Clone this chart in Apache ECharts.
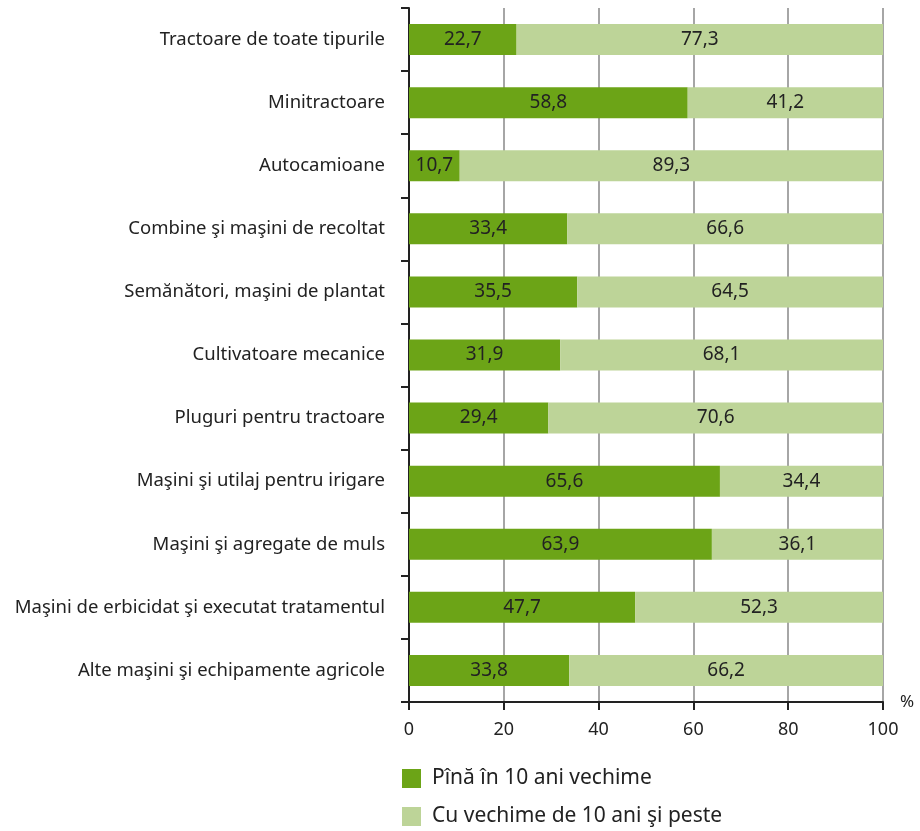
<!DOCTYPE html>
<html>
<head>
<meta charset="utf-8">
<script src="https://cdn.jsdelivr.net/npm/echarts@6/dist/echarts.min.js"></script>
<style>
  html, body { margin: 0; padding: 0; background: #fff; }
  #chart { width: 920px; height: 831px; }
</style>
</head>
<body>
<div id="chart"></div>
<script>
var categories = [
    'Tractoare de toate tipurile',
    'Minitractoare',
    'Autocamioane',
    'Combine şi maşini de recoltat',
    'Semănători, maşini de plantat',
    'Cultivatoare mecanice',
    'Pluguri pentru tractoare',
    'Maşini şi utilaj pentru irigare',
    'Maşini şi agregate de muls',
    'Maşini de erbicidat şi executat tratamentul',
    'Alte maşini şi echipamente agricole'
];
var under10 = [22.7, 58.8, 10.7, 33.4, 35.5, 31.9, 29.4, 65.6, 63.9, 47.7, 33.8];
var over10 = [77.3, 41.2, 89.3, 66.6, 64.5, 68.1, 70.6, 34.4, 36.1, 52.3, 66.2];
var seriesNames = ['Pînă în 10 ani vechime', 'Cu vechime de 10 ani şi peste'];

var font = 'Noto Sans';
var fmt = function (p) { return p.value.toFixed(1).replace('.', ','); };

function legendFor(name, top) {
    return {
        left: 397,
        top: top,
        itemWidth: 19,
        itemHeight: 19,
        icon: 'rect',
        selectedMode: false,
        textStyle: { fontSize: 21, color: '#222', fontFamily: font, padding: [0, 0, 0, 6] },
        data: [name]
    };
}

var myChart = echarts.init(document.getElementById('chart'));
myChart.setOption({
    animation: false,
    textStyle: { fontFamily: font },
    grid: { left: 409, right: 37, top: 8, bottom: 129, containLabel: false },
    legend: [legendFor(seriesNames[0], 763), legendFor(seriesNames[1], 801)],
    graphic: [{
        type: 'text',
        left: 900,
        top: 694,
        style: { text: '%', fontSize: 17, fill: '#222', fontFamily: font }
    }],
    xAxis: {
        type: 'value',
        min: 0,
        max: 100,
        interval: 20,
        axisLine: { show: true, lineStyle: { color: '#222', width: 2 } },
        axisTick: { show: true, length: 8, lineStyle: { color: '#222', width: 2 } },
        axisLabel: { fontSize: 18, color: '#222', margin: 19, fontFamily: font },
        splitLine: { show: true, lineStyle: { color: '#888', width: 1.5 } }
    },
    yAxis: {
        type: 'category',
        inverse: true,
        data: categories,
        axisLine: { show: true, lineStyle: { color: '#222', width: 2 } },
        axisTick: { show: true, length: 8, lineStyle: { color: '#222', width: 2 } },
        axisLabel: { fontSize: 18.5, color: '#222', margin: 24, fontFamily: font }
    },
    series: [
        {
            name: seriesNames[0],
            type: 'bar',
            stack: 'total',
            barWidth: 31,
            itemStyle: { color: '#6ca417' },
            label: { show: true, position: 'inside', formatter: fmt, fontSize: 19, color: '#222', fontFamily: font },
            data: under10
        },
        {
            name: seriesNames[1],
            type: 'bar',
            stack: 'total',
            barWidth: 31,
            itemStyle: { color: '#bdd498' },
            label: { show: true, position: 'inside', formatter: fmt, fontSize: 19, color: '#222', fontFamily: font },
            data: over10
        }
    ]
});
</script>
</body>
</html>
